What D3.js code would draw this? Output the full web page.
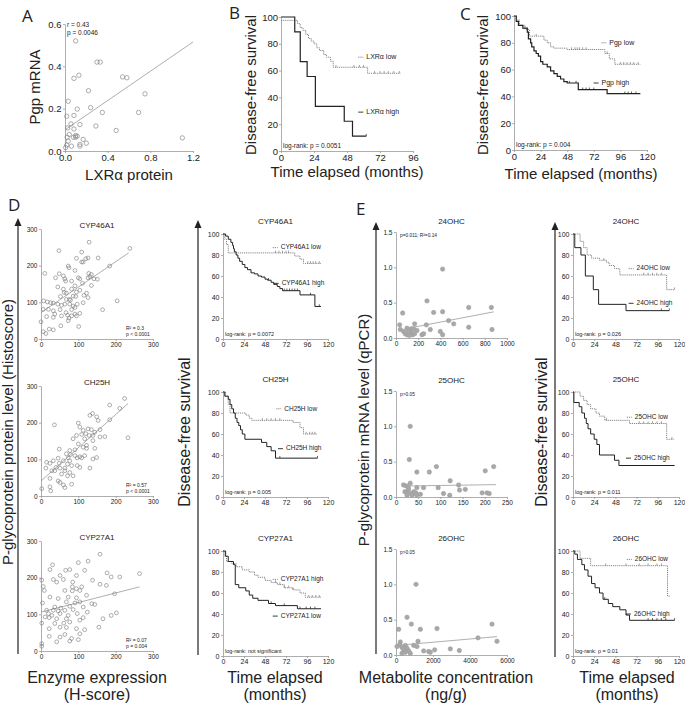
<!DOCTYPE html>
<html><head><meta charset="utf-8">
<script src="https://cdnjs.cloudflare.com/ajax/libs/d3/7.8.5/d3.min.js"></script>
<style>
  body { margin: 0; background: #fff; }
  text { font-family: "Liberation Sans", Arial, sans-serif; fill: #222; }
</style>
</head><body>
<script>

// ---------- data ----------

// A: LXRa protein vs Pgp mRNA
const aPts = [[0.10,0.52],[0.30,0.42],[0.33,0.42],[0.084,0.343],[0.13,0.358],[0.54,0.35],[0.58,0.346],
  [0.22,0.285],[0.03,0.235],[0.75,0.27],[0.115,0.198],[0.24,0.205],[0.084,0.168],[0.016,0.164],[0.35,0.182],
  [0.69,0.182],[0.056,0.128],[0.14,0.125],[0.29,0.118],[0.025,0.109],[0.084,0.104],[0.48,0.097],[0.04,0.078],
  [0.10,0.073],[0.115,0.07],[0.08,0.065],[0.02,0.065],[0.17,0.055],[1.10,0.062],[0.14,0.031],[0.20,0.037],
  [0.03,0.047],[0.06,0.023],[0.016,0.028],[0.14,0.023],[0.006,0.016],[0.10,0.065]];
const aFit = [[0, 0.10], [1.2, 0.515]];

// B: LXRa low / high (step points, last point = end of follow-up)
const bLow = [[0,97.5],[12,95],[14,92],[16,90],[18,87],[20,84],[22,82],[24,80],[26,77],[28,75],[31,72],
  [33,70],[36,67],[38,62.5],[63,58],[87,58]];
const bLowCens = [40,53,57,60,68,72,75,78,82,86];
const bHigh = [[0,100],[10,88.9],[14,66.7],[19,55.6],[25,33.3],[46,22.2],[52,11.1],[62,11.1]];
const bHighCens = [62];

// C: Pgp low / high
const cLow = [[0,100],[2,97],[5,93],[10,90],[14,85],[27,82],[30,80],[33,77],[36,76],[48,75],[82,72],
  [86,68],[91,64],[114,64]];
const cLowCens = [20,52,55,57,59,62,65,84,96,99,102,105,108,112];
const cHigh = [[0,100],[2,96],[4,93],[8,91],[12,88],[13,83],[15,80],[16,77],[18,74],[20,72],[22,70],
  [24,66],[26,64],[30,62],[33,59],[36,57],[39,55],[42,53],[45,51],[48,50],[58,45],[84,42],[114,42]];
const cHighCens = [50,56,62,65,68,72,100,103,106,110];

// D: enzyme H-score vs Pgp histoscore
const dCyp46 = [[129,264],[48,241],[109,237],[238,247],[153,221],[126,221],[120,219],[95,220],[113,210],
  [109,210],[73,199],[75,194],[184,199],[10,179],[49,178],[128,179],[135,176],[91,187],[60,172],[39,167],
  [64,164],[100,167],[104,164],[126,167],[131,170],[151,163],[142,164],[66,158],[82,158],[111,152],[91,145],
  [135,146],[45,142],[60,136],[82,136],[104,133],[62,127],[68,125],[95,128],[122,125],[52,116],[76,108],
  [79,106],[93,116],[115,119],[126,113],[7,104],[17,101],[26,99],[33,98],[45,95],[55,92],[64,95],[77,95],
  [86,90],[97,95],[113,99],[204,104],[6,81],[20,81],[33,77],[51,80],[67,72],[82,80],[91,68],[104,70],
  [165,80],[37,68],[55,63],[71,65],[82,63],[95,63],[15,61],[33,59],[75,57],[53,36],[101,34],[0,47],
  [22,27],[33,25],[6,20],[13,15],[91,86],[68,108],[86,117],[73,50]];
const dCyp46Fit = [[0,72],[235,235]];
const dCh25 = [[224,266],[184,248],[211,239],[138,225],[131,220],[153,206],[149,216],[36,194],[100,199],
  [104,188],[184,208],[126,183],[113,179],[135,181],[144,174],[158,181],[95,165],[109,168],[120,170],
  [129,165],[139,165],[158,161],[171,162],[233,159],[86,156],[117,156],[139,151],[100,142],[122,138],
  [113,133],[49,128],[77,124],[91,126],[122,130],[144,130],[68,115],[79,113],[91,110],[104,107],[117,110],
  [149,105],[73,104],[97,104],[109,104],[46,103],[33,96],[60,96],[77,96],[15,92],[24,89],[49,89],[71,87],
  [82,83],[97,83],[131,76],[13,76],[40,78],[51,76],[64,76],[29,69],[37,69],[64,69],[77,64],[55,60],[71,55],
  [24,48],[46,41],[51,37],[60,30],[82,32],[64,23],[24,25],[2,20],[26,14],[86,55],[104,78],[139,101]];
const dCh25Fit = [[0,41],[233,252]];
const dCyp27 = [[158,264],[31,235],[126,245],[100,241],[24,222],[77,222],[117,220],[66,220],[51,206],
  [95,206],[177,213],[264,211],[2,193],[33,195],[42,188],[60,195],[85,188],[188,202],[138,193],[211,202],
  [6,176],[84,175],[95,170],[109,175],[158,182],[175,179],[9,165],[64,165],[84,164],[104,165],[122,152],
  [197,156],[24,147],[46,143],[73,147],[95,145],[4,131],[68,134],[91,131],[104,134],[136,129],[144,127],
  [37,120],[53,117],[77,122],[113,120],[15,111],[33,111],[46,109],[64,111],[86,113],[20,102],[29,97],
  [51,102],[73,97],[97,102],[124,106],[202,104],[11,93],[22,91],[42,88],[68,88],[113,91],[188,97],[2,76],
  [37,75],[61,76],[77,79],[104,84],[166,88],[22,61],[51,65],[68,64],[95,61],[117,58],[155,65],[22,40],
  [64,45],[82,34],[100,31],[104,47],[42,25],[77,27],[2,20],[2,13],[51,38]];
const dCyp27Fit = [[0,106],[264,175]];

// D: survival by enzyme expression
const dKm46Low = [[0,100],[2,95],[4,90],[6,82],[82,79],[88,76],[92,72],[112,72]];
const dKm46LowCens = [60,64,68,72,75,97,100,103,106,110];
const dKm46High = [[0,100],[3,98],[6,95],[9,92],[11,89],[12,86],[13,83],[15,80],[17,77],[19,74],[22,71],
  [25,68],[28,66],[32,63],[36,62],[40,60],[44,59],[48,57],[51,56],[55,54],[58,52],[62,50],[65,48],[68,46],
  [88,42],[105,31],[112,31]];
const dKm46HighCens = [52,70,73,76,79,82,85,100,110];
const dKm25Low = [[0,100],[3,96],[6,88],[8,80],[26,78],[30,75],[33,73],[80,71],[88,66],[92,60],[108,60]];
const dKm25LowCens = [45,50,55,60,65,95,99,102,105];
const dKm25High = [[0,100],[2,96],[6,93],[8,88],[10,84],[12,80],[14,75],[16,71],[18,68],[20,64],[22,60],
  [25,55],[44,52],[50,48],[55,44],[60,37],[108,37]];
const dKm25HighCens = [65,108];
const dKm27High = [[0,100],[2,95],[4,90],[10,88],[15,85],[22,82],[30,80],[36,77],[40,75],[48,72],[55,70],
  [62,68],[70,65],[80,63],[88,60],[94,56],[112,56]];
const dKm27HighCens = [60,65,70,75,80,98,102,106,110];
const dKm27Low = [[0,100],[3,95],[6,90],[12,87],[14,68],[18,65],[26,62],[30,58],[34,55],[40,53],[52,50],
  [60,48],[85,45],[112,45]];
const dKm27LowCens = [55,70,88,95,100,105];

// E: metabolite concentration vs Pgp mRNA
const e24 = [[420,0.975],[279,0.525],[60,0.353],[339,0.362],[420,0.372],[655,0.432],[859,0.432],[474,0.246],
  [520,0.20],[273,0.186],[168,0.20],[33,0.186],[39,0.12],[99,0.139],[138,0.13],[159,0.13],[114,0.107],
  [69,0.093],[84,0.06],[99,0.046],[138,0.074],[150,0.046],[168,0.06],[120,0.037],[234,0.046],[249,0.06],
  [309,0.12],[399,0.093],[420,0.046],[655,0.153],[865,0.12],[189,0.107]];
const e24Fit = [[100,0.135],[880,0.37]];
const e25 = [[32,1.0],[30,0.53],[47,0.353],[91,0.43],[75,0.353],[122,0.23],[141,0.17],[201,0.37],[220,0.43],
  [17,0.17],[23,0.157],[32,0.196],[47,0.132],[62,0.132],[95,0.132],[156,0.108],[143,0.098],[20,0.074],
  [25,0.059],[28,0.098],[35,0.049],[40,0.074],[45,0.059],[55,0.039],[25,0.025],[36,0.025],[47,0.025],
  [107,0.049],[121,0.025],[194,0.059],[205,0.059],[210,0.049],[28,0.13]];
const e25Fit = [[15,0.155],[225,0.175]];
const e26 = [[1081,1.0],[595,0.534],[829,0.437],[144,0.364],[1315,0.364],[2216,0.374],[5189,0.437],
  [4432,0.243],[5459,0.194],[234,0.184],[1189,0.194],[198,0.146],[955,0.136],[1135,0.121],[505,0.136],
  [54,0.121],[324,0.107],[414,0.073],[595,0.097],[685,0.058],[505,0.039],[324,0.024],[775,0.024],
  [1495,0.058],[1766,0.049],[2090,0.073],[2937,0.087],[3423,0.063],[1856,0.039]];
const e26Fit = [[54,0.136],[5459,0.26]];

// E: survival by metabolite level
const eKm24Low = [[0,100],[8,93],[12,87],[16,80],[21,77],[30,75],[38,73],[41,70],[47,67],[53,61],[106,47],[115,47]];
const eKm24LowCens = [35,80,85,90,95,100,115];
const eKm24High = [[0,100],[2,87],[9,80],[14,60],[23,47],[29,33],[60,27],[109,27]];
const eKm24HighCens = [100,109];
const eKm25Low = [[0,100],[8,96],[12,92],[16,88],[20,84],[26,80],[30,77],[36,73],[64,70],[106,55],[114,55]];
const eKm25LowCens = [38,75,80,85,90,95,100,112];
const eKm25High = [[0,100],[1,90],[7,86],[10,80],[13,75],[15,70],[17,65],[20,60],[24,55],[27,50],[30,40],
  [47,35],[52,30],[115,30]];
const eKm25HighCens = [];
const eKm26Low = [[0,100],[8,93],[20,86],[107,57],[110,57]];
const eKm26LowCens = [37,60,75,85,95,100];
const eKm26High = [[0,100],[2,97],[5,92],[10,87],[13,82],[17,76],[21,69],[25,65],[30,60],[34,54],[40,50],
  [45,47],[53,44],[60,39],[64,34],[115,34]];
const eKm26HighCens = [36,85,90,95,100,105,115];

// tick values
const survTicks = [0, 20, 40, 60, 80, 100];
const month96 = [0, 24, 48, 72, 96];
const month120 = [0, 24, 48, 72, 96, 120];
const aXTicks = [0, 0.4, 0.8, 1.2];
const aYTicks = [0, 0.2, 0.4, 0.6];
const hTicks = [0, 100, 200, 300];
const mrnaTicks = [0, 0.5, 1.0, 1.5];
const e24Ticks = [0, 200, 400, 600, 800, 1000];
const e25Ticks = [0, 50, 100, 150, 200, 250];
const e26Ticks = [0, 2000, 4000, 6000];

// ---------- drawing ----------

let svg = d3.select("body").append("svg").attr("width", 685).attr("height", 706);

function txt(x, y, s, size, anchor, rot) {
  let t = svg.append("text").attr("x", x).attr("y", y).text(s)
      .style("font-size", size + "px").attr("text-anchor", anchor || "start");
  if (rot) t.attr("transform", `rotate(-90,${x},${y})`).attr("dominant-baseline", "middle");
  return t;
}

function axes(x, y, xt, yt, fx, fy, fs, pad) {
  let gx = svg.append("g").attr("transform", `translate(0,${y.range()[0]})`)
      .call(d3.axisBottom(x).tickValues(xt).tickFormat(fx).tickSize(2).tickSizeOuter(0).tickPadding(pad));
  let gy = svg.append("g").attr("transform", `translate(${x.range()[0]},0)`)
      .call(d3.axisLeft(y).tickValues(yt).tickFormat(fy).tickSize(2).tickSizeOuter(0).tickPadding(pad));
  [gx, gy].forEach(g => {
    g.select(".domain").attr("stroke", "#999").attr("stroke-width", 0.8);
    g.selectAll(".tick line").attr("stroke", "#999").attr("stroke-width", 0.8);
    g.selectAll(".tick text").style("font-size", fs + "px").attr("fill", "#222");
  });
}

function scatter(o) {
  let x = d3.scaleLinear().domain(o.xd).range([o.x0, o.x1]);
  let y = d3.scaleLinear().domain(o.yd).range([o.y1, o.y0]);
  axes(x, y, o.xt, o.yt, o.fx, o.fy, o.fs, 1.5);
  svg.append("line")
      .attr("x1", x(o.fit[0][0])).attr("y1", y(o.fit[0][1]))
      .attr("x2", x(o.fit[1][0])).attr("y2", y(o.fit[1][1]))
      .attr("stroke", "#999").attr("stroke-width", 0.8);
  svg.append("g").selectAll("circle").data(o.pts).join("circle")
      .attr("cx", d => x(d[0])).attr("cy", d => y(d[1])).attr("r", o.r)
      .attr("fill", o.filled ? "#a8a8a8" : "none")
      .attr("stroke", o.filled ? "#a0a0a0" : "#777").attr("stroke-width", 0.6);
  if (o.title) txt((o.x0 + o.x1) / 2, o.y0 - o.tdy, o.title, 8, "middle");
  return { x, y };
}

function survAt(steps, t) {
  let s = steps[0][1];
  steps.forEach(d => { if (d[0] <= t) s = d[1]; });
  return s;
}

function km(o) {
  let x = d3.scaleLinear().domain(o.xd).range([o.x0, o.x1]);
  let y = d3.scaleLinear().domain([0, 100]).range([o.y1, o.y0]);
  axes(x, y, o.xt, survTicks, d3.format("d"), d3.format("d"), o.fs, o.pad || 1.5);
  let line = d3.line().x(d => x(d[0])).y(d => y(d[1])).curve(d3.curveStepAfter);
  o.curves.forEach(c => {
    let col = c.low ? "#777" : "#222";
    svg.append("path").attr("d", line(c.steps)).attr("fill", "none")
        .attr("stroke", col).attr("stroke-width", c.low ? 0.9 : (o.lw || 1))
        .attr("stroke-dasharray", c.low ? "1.2,0.9" : null);
    svg.append("g").selectAll("line").data(c.cens).join("line")
        .attr("x1", d => x(d)).attr("x2", d => x(d))
        .attr("y1", d => y(survAt(c.steps, d))).attr("y2", d => y(survAt(c.steps, d)) - 2.2)
        .attr("stroke", col).attr("stroke-width", 0.7);
    // legend dash + label next to the curve
    let lx = x(c.lt), ly = y(c.lv);
    svg.append("line").attr("x1", lx - 8).attr("x2", lx - 3).attr("y1", ly).attr("y2", ly)
        .attr("stroke", col).attr("stroke-width", 0.9).attr("stroke-dasharray", c.low ? "1.2,0.9" : null);
    txt(lx, ly, c.label, o.lfs).attr("dominant-baseline", "middle");
  });
  txt(o.x0 + 2, o.y1 - 3, o.logrank, o.rfs);
  if (o.title) txt((o.x0 + o.x1) / 2, o.y0 - 10, o.title, 8, "middle");
}

function bigArrow(x, y0, y1) {
  svg.append("line").attr("x1", x).attr("x2", x).attr("y1", y0 + 6).attr("y2", y1)
      .attr("stroke", "#222").attr("stroke-width", 1.2);
  svg.append("path").attr("d", `M${x - 3.5},${y0 + 8}L${x},${y0}L${x + 3.5},${y0 + 8}Z`).attr("fill", "#222");
}

// panel letters
[["A", 22, 22], ["B", 229, 19], ["C", 460, 20], ["D", 8, 211], ["E", 356, 215]].forEach(d =>
  txt(d[1], d[2], d[0], 17).style("font-family", "'Open Sans', sans-serif"));

// ----- A -----
scatter({ x0: 65, x1: 193, y0: 24, y1: 151, xd: [0, 1.2], yd: [0, 0.6], xt: aXTicks, yt: aYTicks,
  fx: d3.format(".1f"), fy: d3.format(".1f"), fs: 9.5, pts: aPts, fit: aFit, r: 2.2 });
txt(67, 27, "r = 0.43", 6.5);
txt(67, 35, "p = 0.0046", 6.5);
txt(36, 87, "Pgp mRNA", 15, "middle", true);
txt(129, 180, "LXRα protein", 15, "middle");

// ----- B -----
km({ x0: 281, x1: 413, y0: 17, y1: 151, xd: [0, 96], xt: month96, fs: 9.5, lfs: 7, rfs: 6.5, lw: 1.2,
  pad: 1, logrank: "log-rank: p = 0.0051",
  curves: [
    { steps: bLow, cens: bLowCens, low: true, label: "LXRα low", lt: 62, lv: 70 },
    { steps: bHigh, cens: bHighCens, low: false, label: "LXRα high", lt: 62, lv: 29 }] });
txt(252, 85, "Disease-free survival", 15, "middle", true);
txt(347, 177, "Time elapsed (months)", 15, "middle");

// ----- C -----
km({ x0: 514, x1: 647, y0: 16, y1: 150, xd: [0, 120], xt: month120, fs: 9.5, lfs: 7, rfs: 6.5, lw: 1.2,
  pad: 1, logrank: "log-rank: p = 0.004",
  curves: [
    { steps: cLow, cens: cLowCens, low: true, label: "Pgp low", lt: 86, lv: 80 },
    { steps: cHigh, cens: cHighCens, low: false, label: "Pgp high", lt: 79, lv: 50 }] });
txt(484, 85, "Disease-free survival", 15, "middle", true);
txt(581, 179, "Time elapsed (months)", 15, "middle");

// ----- D scatter -----
const dTops = [229, 386, 541];
const dSets = [[dCyp46, dCyp46Fit, "CYP46A1", "R² = 0.3", "p < 0.0001"],
               [dCh25, dCh25Fit, "CH25H", "R² = 0.57", "p < 0.0001"],
               [dCyp27, dCyp27Fit, "CYP27A1", "R² = 0.07", "p = 0.004"]];
dSets.forEach((s, i) => {
  let top = dTops[i], bot = top + 110;
  scatter({ x0: 41, x1: 153, y0: top, y1: bot, xd: [0, 300], yd: [0, 300], xt: hTicks, yt: hTicks,
    fx: d3.format("d"), fy: d3.format("d"), fs: 6.5, pts: s[0], fit: s[1], r: 1.9, title: s[2], tdy: 1 });
  txt(126, bot - 9, s[3], 5);
  txt(126, bot - 3, s[4], 5);
});
bigArrow(18, 218, 654);
txt(9, 432, "P-glycoprotein protein level (Histoscore)", 15, "middle", true);
txt(97, 683, "Enzyme expression", 16, "middle");
txt(97, 700, "(H-score)", 16, "middle");

// ----- D survival -----
const kmTops = [234, 392, 551];
const dKm = [
  ["CYP46A1", "log-rank: p = 0.0072",
    { steps: dKm46Low, cens: dKm46LowCens, low: true, label: "CYP46A1 low", lt: 66, lv: 87 },
    { steps: dKm46High, cens: dKm46HighCens, low: false, label: "CYP46A1 high", lt: 67, lv: 53 }],
  ["CH25H", "log-rank: p = 0.005",
    { steps: dKm25Low, cens: dKm25LowCens, low: true, label: "CH25H low", lt: 70, lv: 84 },
    { steps: dKm25High, cens: dKm25HighCens, low: false, label: "CH25H high", lt: 72, lv: 46 }],
  ["CYP27A1", "log-rank: not significant",
    { steps: dKm27High, cens: dKm27HighCens, low: true, label: "CYP27A1 high", lt: 66, lv: 73 },
    { steps: dKm27Low, cens: dKm27LowCens, low: false, label: "CYP27A1 low", lt: 66, lv: 38 }]];
dKm.forEach((p, i) => {
  km({ x0: 223, x1: 328, y0: kmTops[i], y1: kmTops[i] + 105, xd: [0, 120], xt: month120,
    fs: 7, lfs: 6.5, rfs: 5.5, title: p[0], logrank: p[1], curves: [p[2], p[3]] });
});
bigArrow(198, 220, 655);
txt(186, 432, "Disease-free survival", 16, "middle", true);
txt(275, 683, "Time elapsed", 16, "middle");
txt(275, 700, "(months)", 16, "middle");

// ----- E scatter -----
const eTops = [232, 391, 549];
const eSets = [[e24, e24Fit, "24OHC", [0, 1000], e24Ticks, "p=0.011; R²=0.14"],
               [e25, e25Fit, "25OHC", [0, 250], e25Ticks, "p>0.05"],
               [e26, e26Fit, "26OHC", [0, 6000], e26Ticks, "p>0.05"]];
eSets.forEach((s, i) => {
  let top = eTops[i];
  scatter({ x0: 396, x1: 507, y0: top, y1: top + 106, xd: s[3], yd: [0, 1.5], xt: s[4], yt: mrnaTicks,
    fx: d3.format("d"), fy: d3.format(".1f"), fs: 6.5, pts: s[0], fit: s[1], r: 2.2, filled: true,
    title: s[2], tdy: 8 });
  txt(400, top + 5, s[5], 4.8);
});
bigArrow(376, 222, 654);
txt(365, 430, "P-glycoprotein mRNA level (qPCR)", 15, "middle", true);
txt(446, 683, "Metabolite concentration", 16, "middle");
txt(446, 700, "(ng/g)", 16, "middle");

// ----- E survival -----
const eKm = [
  ["24OHC", "log-rank: p = 0.026",
    { steps: eKm24Low, cens: eKm24LowCens, low: true, label: "24OHC low", lt: 72, lv: 67 },
    { steps: eKm24High, cens: eKm24HighCens, low: false, label: "24OHC high", lt: 72, lv: 34 }],
  ["25OHC", "log-rank: p = 0.011",
    { steps: eKm25Low, cens: eKm25LowCens, low: true, label: "25OHC low", lt: 70, lv: 76 },
    { steps: eKm25High, cens: eKm25HighCens, low: false, label: "25OHC high", lt: 69, lv: 37 }],
  ["26OHC", "log-rank: p = 0.01",
    { steps: eKm26Low, cens: eKm26LowCens, low: true, label: "26OHC low", lt: 70, lv: 92 },
    { steps: eKm26High, cens: eKm26HighCens, low: false, label: "26OHC high", lt: 69, lv: 40 }]];
eKm.forEach((p, i) => {
  km({ x0: 573, x1: 679, y0: kmTops[i], y1: kmTops[i] + 105, xd: [0, 120], xt: month120,
    fs: 7, lfs: 6.5, rfs: 5.5, title: p[0], logrank: p[1], curves: [p[2], p[3]] });
});
bigArrow(555, 222, 657);
txt(543, 432, "Disease-free survival", 16, "middle", true);
txt(627, 683, "Time elapsed", 16, "middle");
txt(627, 700, "(months)", 16, "middle");

</script>
</body></html>
